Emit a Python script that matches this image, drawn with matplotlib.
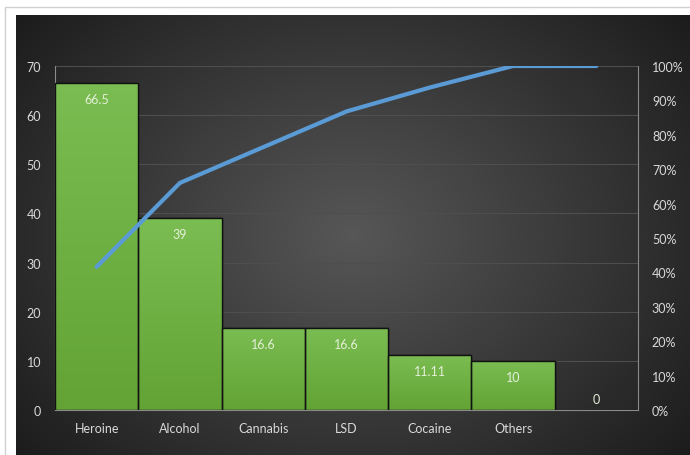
import numpy as np
import matplotlib
matplotlib.use('Agg')
from matplotlib import pyplot as plt
from matplotlib.patches import Rectangle
from matplotlib.ticker import PercentFormatter

plt.rcParams['font.family'] = ['Lato', 'DejaVu Sans']
plt.rcParams['font.size'] = 9

categories = ['Heroine', 'Alcohol', 'Cannabis', 'LSD', 'Cocaine', 'Others', '']
values = [66.5, 39, 16.6, 16.6, 11.11, 10, 0]
value_labels = ['66.5', '39', '16.6', '16.6', '11.11', '10', '0']

cumulative = np.cumsum(values) / np.sum(values)

fig = plt.figure(figsize=(6.9, 4.56), dpi=100)
fig.patch.set_facecolor('white')

# light frame + dark radial background
frame = Rectangle((5 / 690, -0.01), 1, 1.01 - 8 / 456, transform=fig.transFigure,
                  facecolor='white', edgecolor='#d0d0d0', linewidth=1, zorder=-5)
fig.patches.append(frame)
bg = fig.add_axes([16 / 690, 0, 1 - 16 / 690, 1 - 16 / 456], zorder=0)
yy, xx = np.mgrid[0:1:300j, 0:1:400j]
r = np.sqrt(((xx - 0.5) / 0.62) ** 2 + ((yy - 0.5) / 0.75) ** 2)
shade = np.clip(0.34 - 0.22 * r, 0.11, 0.34)
bg.imshow(np.dstack([shade, shade, shade]), aspect='auto', extent=(0, 1, 0, 1), interpolation='bicubic')
bg.set_axis_off()

ax = fig.add_axes([55 / 690, 1 - 411 / 456, (638 - 55) / 690, (411 - 67) / 456], zorder=1)
ax.patch.set_alpha(0)
x = np.arange(len(categories))
bars = ax.bar(x, values, width=1.0, color='#6cae41', edgecolor='#111111', linewidth=1, zorder=2)

# vertical gradient in the bars
grad = np.linspace(0, 1, 256).reshape(-1, 1)
top_c = np.array([0.48, 0.74, 0.32])
bot_c = np.array([0.39, 0.64, 0.21])
img = top_c * grad[:, :, None] + bot_c * (1 - grad[:, :, None])
for b, v in zip(bars, values):
    if v <= 0:
        continue
    im = ax.imshow(img, extent=(b.get_x(), b.get_x() + b.get_width(), 0, v),
                   aspect='auto', origin='lower', zorder=2.5)
    im.set_clip_path(b)
    ax.add_patch(Rectangle((b.get_x(), 0), b.get_width(), v, fill=False,
                           edgecolor='#111111', linewidth=1, zorder=3))

for xi, v, lab in zip(x, values, value_labels):
    ypos = v - 3.2 if v > 5 else v + 2.2
    ax.text(xi, ypos, lab, ha='center', va='center', color='#e4efd8', fontsize=9, zorder=4)

ax.set_xlim(-0.5, len(categories) - 0.5)
ax.set_ylim(0, 70)
ax.set_yticks(range(0, 71, 10))
ax.set_xticks(x)
ax.set_xticklabels(categories, color='#d9d9d9')
ax.tick_params(axis='both', length=0, colors='#d9d9d9', labelsize=9)
ax.tick_params(axis='x', pad=9)
ax.tick_params(axis='y', pad=10)
ax.grid(axis='y', color='#4e4e4e', linewidth=0.8, zorder=0)
ax.set_axisbelow(True)
for side in ['left', 'right', 'bottom']:
    ax.spines[side].set_color('#8a8a8a')
    ax.spines[side].set_linewidth(0.8)
ax.spines['top'].set_visible(False)

ax2 = ax.twinx()
ax2.plot(x, cumulative, color='#5b9bd5', linewidth=3, solid_capstyle='round', zorder=5)
ax2.set_ylim(0, 1)
ax2.set_yticks(np.linspace(0, 1, 11))
ax2.yaxis.set_major_formatter(PercentFormatter(1.0, decimals=0))
ax2.tick_params(axis='y', length=0, colors='#d9d9d9', labelsize=9, pad=10)
for side in ['left', 'right', 'bottom', 'top']:
    ax2.spines[side].set_visible(False)

fig.savefig('out.png', dpi=100)
